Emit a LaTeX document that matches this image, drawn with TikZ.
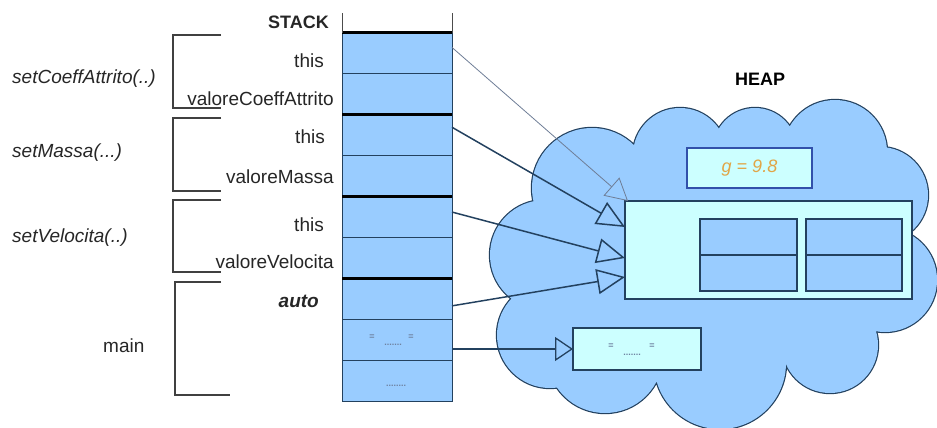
\documentclass[tikz,border=0pt]{standalone}
\usepackage{fontspec}
\setmainfont{Liberation Sans}
\usetikzlibrary{arrows.meta,calc}
\definecolor{fillblue}{RGB}{153,204,255}
\definecolor{palecyan}{RGB}{204,255,255}
\definecolor{edge}{RGB}{35,65,95}
\definecolor{gborder}{RGB}{50,80,170}
\definecolor{gtext}{RGB}{225,165,70}
\definecolor{faint}{RGB}{110,125,150}
\definecolor{dotc}{RGB}{110,130,160}
\begin{document}
\begin{tikzpicture}[x=1pt,y=-1pt,
  cell/.style={draw=edge,line width=0.9pt,fill=fillblue,minimum width=110pt,minimum height=40.9pt,inner sep=0pt,outer sep=0pt},
  lbl/.style={font=\fontsize{19}{22}\selectfont,text=black!85,inner sep=0pt},
  ilbl/.style={lbl,font=\fontsize{19}{22}\selectfont\itshape},
  bracket/.style={draw=black!75,line width=1.4pt},
  box/.style={draw=edge,line width=1.2pt,inner sep=0pt,outer sep=0pt},
  ptr/.style={draw=edge,line width=1.5pt,-{Triangle[open,length=28pt,width=25pt]}},
  ptrfaint/.style={draw=faint,line width=0.8pt,-{Triangle[open,length=22pt,width=24pt]}},
  tiny/.style={font=\fontsize{9}{10}\selectfont\bfseries,text=dotc,inner sep=0pt},
  lobe/.style={draw=edge,line width=2.4pt}]
\useasboundingbox (0,0) rectangle (937,428);

% ---------- cloud (heap) ----------
\def\lobes{(592,188) circle[radius=60] (680,155) circle[radius=47] (755,150) circle[radius=42] (835,152) circle[radius=52] (880,195) circle[radius=48] (885,280) circle[radius=52] (830,345) circle[radius=48] (720,363) circle[radius=66] (605,355) circle[radius=58] (550,335) circle[radius=53] (545,255) circle[radius=55]}
\path[lobe] \lobes;
\fill[fillblue] \lobes;
\fill[fillblue] (592,188) -- (680,155) -- (755,150) -- (835,152) -- (880,195) -- (885,280) -- (830,345) -- (720,363) -- (605,355) -- (550,335) -- (545,255) -- cycle;
\node[font=\fontsize{18}{20}\selectfont\bfseries,anchor=base,inner sep=0pt] (heap) at (760,85) {HEAP};

% ---------- heap objects ----------
\node[box,fill=palecyan,minimum width=125pt,minimum height=40pt,draw=gborder] (gbox) at (749.5,168) {};
\node[font=\fontsize{18}{20}\selectfont\itshape,text=gtext,inner sep=0pt] (gtxt) at (gbox) {g = 9.8};
\node[box,fill=palecyan,minimum width=287pt,minimum height=98pt] (obj) at (768.5,250) {};
\node[box,fill=fillblue,minimum width=97pt,minimum height=72pt] (i1) at (748.5,255) {};
\node[box,fill=fillblue,minimum width=96pt,minimum height=72pt] (i2) at (854,255) {};
\draw[edge,line width=1.5pt] (i1.west) -- (i1.east);
\draw[edge,line width=1.5pt] (i2.west) -- (i2.east);
\node[box,fill=palecyan,minimum width=128pt,minimum height=42pt] (b2) at (637,349) {};
\node[tiny] (b2a) at (611,346) {=};
\node[tiny] (b2b) at (652,346) {=};
\node[tiny] (b2c) at (632,355) {.......};

% ---------- stack ----------
\foreach \i in {1,...,9} \node[cell] (c\i) at (397,{33+40.9*(\i-0.5)}) {};
\foreach \i in {1,3,5,7} \draw[line width=3pt] (c\i.north west) -- (c\i.north east);
\draw[black!70,line width=1pt] (c1.north west) -- ++(0,-20);
\draw[black!70,line width=1pt] (c1.north east) -- ++(0,-20);
\node[tiny] (s8a) at (372,337) {=};
\node[tiny] (s8b) at (411,337) {=};
\node[tiny] (s8c) at (393,345) {.......};
\node[tiny] (s9) at (396,386) {........};

\node[lbl,font=\fontsize{18}{20}\selectfont\bfseries,anchor=base east] (stk) at (329,29) {STACK};
\node[lbl,anchor=base east] (t1) at (324,67) {this};
\node[lbl,anchor=base east] (v1) at (334,105) {valoreCoeffAttrito};
\node[lbl,anchor=base east] (t2) at (325,143) {this};
\node[lbl,anchor=base east] (v2) at (334,183) {valoreMassa};
\node[lbl,anchor=base east] (t3) at (324,231) {this};
\node[lbl,anchor=base east] (v3) at (334,268) {valoreVelocita};
\node[lbl,font=\fontsize{19}{22}\selectfont\bfseries\itshape,anchor=base east] (au) at (319,307) {auto};

% ---------- brackets ----------
\draw[bracket] (221,35) -- (173,35) -- (173,108) -- (221,108);
\draw[bracket] (221,118) -- (173,118) -- (173,191) -- (221,191);
\draw[bracket] (221,200) -- (173,200) -- (173,272) -- (221,272);
\draw[bracket] (221,282) -- (175,282) -- (175,395) -- (230,395);
\node[ilbl,anchor=base west] (f1) at (12,83) {setCoeffAttrito(..)};
\node[ilbl,anchor=base west] (f2) at (12,157) {setMassa(...)};
\node[ilbl,anchor=base west] (f3) at (12,242) {setVelocita(..)};
\node[lbl,anchor=base west] (f4) at (103,352) {main};

% ---------- pointers ----------
\draw[ptrfaint] ([yshift=6pt]c1.east) -- ([xshift=3pt]obj.north west);
\draw[ptr] ([yshift=8pt]c3.east) -- ([yshift=23pt]obj.west);
\draw[ptr] ([yshift=5pt]c5.east) -- ([yshift=-8pt]obj.west);
\draw[ptr] ([yshift=-7pt]c7.east) -- ([yshift=-27pt]obj.west);
\draw[edge,line width=1.3pt,-{Triangle[open,length=18pt,width=24pt]}] (c8.east |- b2.west) -- (b2.west);
\end{tikzpicture}
\end{document}
